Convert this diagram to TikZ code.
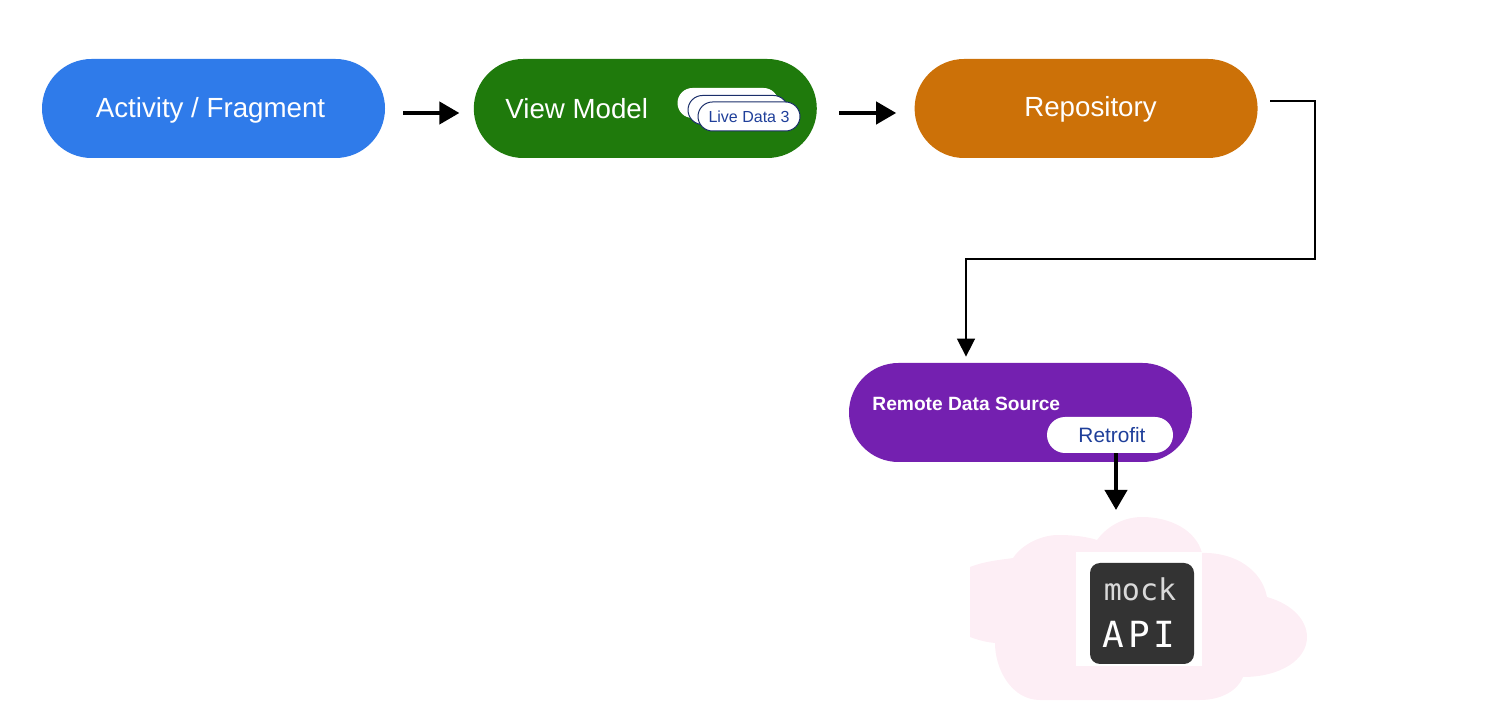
\documentclass[tikz,border=0pt]{standalone}
\usepackage{fontspec}
\setmainfont{Liberation Sans}
\newfontfamily\monofont{DejaVu Sans Mono}
\newfontfamily\apifont[LetterSpace=10]{DejaVu Sans Mono}
\usetikzlibrary{shapes.misc, positioning, arrows.meta}
\definecolor{blueFill}{HTML}{2F7BEA}
\definecolor{greenFill}{HTML}{1F7A0C}
\definecolor{orangeFill}{HTML}{CC7108}
\definecolor{purpleFill}{HTML}{7420B0}
\definecolor{cloudFill}{HTML}{FDEEF5}
\definecolor{badgeText}{HTML}{1F3F9A}
\definecolor{badgeLine}{HTML}{1B2F6B}
\definecolor{mockFill}{HTML}{333333}
\tikzset{
    layer/.style={rounded rectangle, minimum width=171.5pt, minimum height=49.5pt, inner sep=0pt},
    layertext/.style={text=white, inner sep=0pt, font=\fontsize{13.85}{16}\selectfont},
    badge/.style={rounded rectangle, fill=white, draw=badgeLine, line width=0.5pt, inner sep=0pt, minimum width=51pt, minimum height=14.5pt, text=badgeText, font=\fontsize{8}{10}\selectfont},
    flow/.style={-{Stealth[length=10pt,width=11pt,inset=0pt]}, line width=2pt, black},
    wire/.style={-{Stealth[length=9pt,width=9pt,inset=0pt]}, line width=0.8pt, black}
}
\begin{document}
\begin{tikzpicture}[x=0.5pt, y=-0.5pt]
        \useasboundingbox (0,0) rectangle (1494,726);

        \node[layer,fill=blueFill] (activity) at (213.5,108.5) {};
        \node[layer,fill=greenFill,right = 44pt of activity] (viewmodel) {};
        \node[layer,fill=orangeFill,right = 48.5pt of viewmodel] (repository) {};
        \node[layer,fill=purpleFill] (remote) at (1020.5,412.5) {};

        \node[layertext] (activitylabel) at (210.5,110) {Activity / Fragment};
        \node[layertext,anchor=west] (viewlabel) at (505,108.5) {View Model};
        \node[layertext] (repositorylabel) at (1090.5,109) {Repository};

        \node[badge,minimum width=50pt,draw=white] (live1) at (728,103) {};
        \node[badge,minimum width=50pt] (live2) at (738,110) {};
        \node[badge] (live3) at (749,116.5) {Live Data 3};

        \node[text=white,inner sep=0pt,font=\fontsize{9.6}{11}\selectfont\bfseries,anchor=west] (remotelabel) at (872,404) {Remote Data Source};
        \node[badge,draw=none,minimum width=63pt,minimum height=18pt] (retrofit) at (1110,435) {};
        \node[inner sep=0pt,text=badgeText,font=\fontsize{10.4}{12}\selectfont] (retrofitlabel) at (1112,435) {Retrofit};

        \fill[cloudFill] (970,567) .. controls (985,561) and (1000,560) .. (1013,558)
            .. controls (1023,543) and (1043,535) .. (1058,535)
            .. controls (1075,535) and (1088,537) .. (1097,540)
            .. controls (1108,525) and (1125,517) .. (1142,517)
            .. controls (1170,517) and (1196,530) .. (1202,553)
            .. controls (1235,552) and (1262,570) .. (1267,597)
            .. controls (1292,604) and (1307,620) .. (1307,637)
            .. controls (1307,660) and (1280,677) .. (1243,677)
            .. controls (1238,690) and (1222,700) .. (1200,700)
            -- (1040,700)
            .. controls (1012,700) and (995,670) .. (995,643)
            .. controls (985,642) and (978,640) .. (970,637) -- cycle;
        \coordinate (cloudtop) at (1116,517);

        \node[rectangle,fill=white,minimum width=63pt,minimum height=57pt,inner sep=0pt] (mockback) at (1139,609) {};
        \node[rectangle,rounded corners=5pt,fill=mockFill,minimum width=52pt,minimum height=50.5pt,inner sep=0pt] (mock) at (1142,613.5) {};
        \node[text=white!85!black,font=\monofont\fontsize{15}{17}\selectfont,inner sep=0pt] (mocktext) at (1140,589) {mock};
        \node[text=white,font=\apifont\fontsize{18}{20}\selectfont,inner sep=0pt] (apitext) at (1139,634) {API};

        \draw[flow,shorten <=9pt,shorten >=7pt] (activity.east |- 0,113) -- (viewmodel.west |- 0,113);
        \draw[flow,shorten <=11pt,shorten >=9pt] (viewmodel.east |- 0,113) -- (repository.west |- 0,113);

        \coordinate (corner1) at (1315,101);
        \coordinate (corner2) at (1315,259);
        \coordinate (corner3) at (966,259);
        \draw[wire,shorten <=6pt,shorten >=3pt] (repository.east |- corner1) -- (corner1) -- (corner2) -- (corner3) -- (corner3 |- remote.north);

        \draw[flow,shorten >=3.5pt] (retrofit.south -| cloudtop) -- (cloudtop);
\end{tikzpicture}
\end{document}
